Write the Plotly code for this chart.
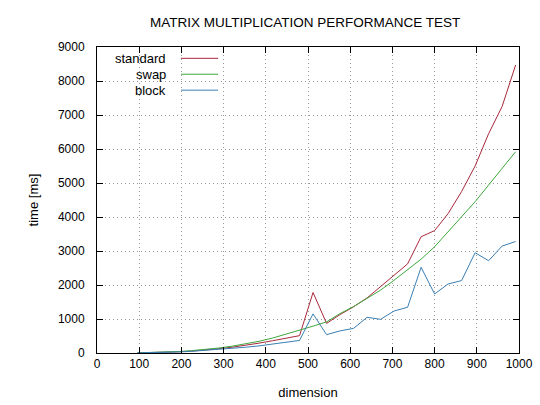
import plotly.graph_objects as go

# matrix sizes tested (step 32)
dims = [96, 128, 160, 192, 224, 256, 288, 320, 352, 384, 416, 448, 480, 512, 544,
        576, 608, 640, 672, 704, 736, 768, 800, 832, 864, 896, 928, 960, 992]

standard = [5, 10, 20, 35, 55, 85, 125, 170, 225, 290, 360, 430, 510, 1780, 870,
            1130, 1360, 1620, 1950, 2300, 2620, 3420, 3600, 4100, 4750, 5500, 6450, 7250, 8470]
swap = [5, 13, 25, 43, 69, 102, 146, 200, 266, 345, 439, 549, 660, 790, 915,
        1160, 1365, 1600, 1850, 2140, 2440, 2760, 3125, 3570, 4010, 4450, 4940, 5430, 5920]
block = [5, 10, 18, 30, 50, 75, 100, 130, 170, 210, 260, 310, 370, 1150, 540,
         650, 725, 1050, 990, 1235, 1345, 2520, 1735, 2030, 2130, 2950, 2715, 3145, 3280]

series = [("standard", standard, "#a8283c"),
          ("swap", swap, "#3ea83e"),
          ("block", block, "#3a7fb5")]

font = "Liberation Sans, Arial, sans-serif"

fig = go.Figure()
for name, vals, col in series:
    fig.add_trace(go.Scatter(x=dims, y=vals, mode="lines", name=name,
                             line=dict(color=col, width=1)))

# gnuplot style key: label on the left, line sample on the right
for i, (name, vals, col) in enumerate(series):
    y = 0.963 - i * 0.052
    fig.add_annotation(xref="paper", yref="paper", x=0.168, y=y, text=name,
                       showarrow=False, xanchor="right", yanchor="middle",
                       font=dict(size=13, color="black"))
    fig.add_shape(type="line", xref="paper", yref="paper", x0=0.199, x1=0.287,
                  y0=y, y1=y, line=dict(color=col, width=1))

axis_common = dict(showline=True, linecolor="black", linewidth=1, mirror="ticks",
                   ticks="inside", ticklen=6, tickcolor="black", automargin=False,
                   showgrid=True, gridcolor="#999999", griddash="1px,3px", gridwidth=1,
                   zeroline=False, tickfont=dict(size=12, color="black"))

fig.update_xaxes(range=[0, 1000], dtick=100, tick0=0,
                 title=dict(text="dimension", font=dict(size=13, color="black"), standoff=17),
                 **axis_common)
fig.update_yaxes(range=[0, 9000], dtick=1000, tick0=0, ticklabelstandoff=9,
                 title=dict(text="time [ms]", font=dict(size=13, color="black"), standoff=16),
                 **axis_common)

fig.update_layout(
    width=540, height=405,
    title=dict(text="MATRIX MULTIPLICATION PERFORMANCE TEST", x=0.565, xanchor="center",
               y=0.945, yanchor="middle", font=dict(size=13.5, color="black")),
    font=dict(family=font, color="black"),
    showlegend=False,
    plot_bgcolor="white", paper_bgcolor="white",
    margin=dict(l=97, r=21, t=47, b=52),
)

fig.write_html("out.html", config={"displayModeBar": False},
               post_script="document.body.style.margin='0';")
